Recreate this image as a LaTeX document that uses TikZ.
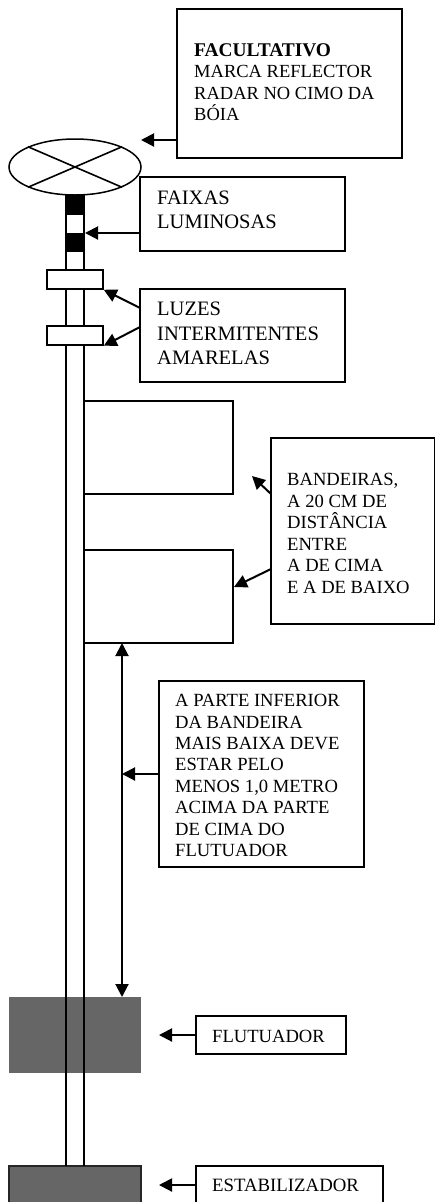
\documentclass[tikz,border=0pt]{standalone}
\usepackage{fontspec}
\setmainfont{Liberation Serif}
\usetikzlibrary{arrows.meta, shapes.geometric}
\definecolor{floatgray}{RGB}{102,102,102}
\tikzset{
	caixa/.style={draw, line width=1.5pt, inner sep=0pt},
	rotulo/.style={anchor=west, align=left, inner sep=0pt},
	peca/.style={draw, line width=1.5pt, fill=white, inner sep=0pt},
	seta/.style={-{Triangle[length=13pt,width=13pt]}, line width=2pt},
	haste/.style={line width=1.6pt}
}
\newcommand{\fsa}{\fontsize{18.6}{21.4}\selectfont}
\newcommand{\fsb}{\fontsize{20.5}{24.3}\selectfont}
\begin{document}
\begin{tikzpicture}[x=1pt, y=-1pt]
	\useasboundingbox (0,0) rectangle (435,1202);
	\clip (0,0) rectangle (435,1202);
	% float and stabilizer
	\node[fill=floatgray, minimum width=132pt, minimum height=76pt, inner sep=0pt] (flutuador) at (75,1035) {};
	\node[draw=black!85, line width=1.5pt, fill=floatgray, minimum width=132pt, minimum height=38pt, inner sep=0pt] (estabilizador) at (75,1185) {};
	% pole
	\draw[haste] (66,195) -- (66,1166);
	\draw[haste] (84,195) -- (84,1166);
	\fill (66,195) rectangle (84,215);
	\fill (66,233) rectangle (84,252);
	% top mark
	\node[peca, ellipse, minimum width=132pt, minimum height=56pt] (marca) at (75,167) {};
	\draw[haste] (marca.north west) -- (marca.south east);
	\draw[haste] (marca.north east) -- (marca.south west);
	% lights
	\node[peca, minimum width=56pt, minimum height=19pt] (luz1) at (75,279.5) {};
	\node[peca, minimum width=56pt, minimum height=19pt] (luz2) at (75,335.5) {};
	% flags
	\node[peca, minimum width=149pt, minimum height=93pt] (bandeira1) at (158.5,447.5) {};
	\node[peca, minimum width=149pt, minimum height=93pt] (bandeira2) at (158.5,596.5) {};
	% label boxes
	\node[caixa, minimum width=225pt, minimum height=149pt] (facultativo) at (289.5,83.5) {};
	\node[caixa, minimum width=205pt, minimum height=74pt] (faixas) at (242.5,214) {};
	\node[caixa, minimum width=205pt, minimum height=93pt] (luzes) at (242.5,335.5) {};
	\node[caixa, minimum width=164pt, minimum height=186pt] (bandeiras) at (353,531) {};
	\node[caixa, minimum width=205pt, minimum height=186pt] (parte) at (261.5,774) {};
	\node[caixa, minimum width=150pt, minimum height=38pt] (flutlabel) at (271,1035) {};
	\node[caixa, minimum width=187pt, minimum height=38pt] (establabel) at (289.5,1185) {};
	% label texts
	\node[rotulo, font=\fontsize{18.5}{21.4}\selectfont] (facultativotxt) at (194,82) {{\fontsize{19.4}{21.4}\selectfont\textbf{FACULTATIVO}}\\MARCA REFLECTOR\\RADAR NO CIMO DA\\BÓIA};
	\node[rotulo, font=\fsb] (faixastxt) at (157,209.5) {FAIXAS\\LUMINOSAS};
	\node[rotulo, font=\fsb] (luzestxt) at (157,333.5) {LUZES\\INTERMITENTES\\AMARELAS};
	\node[rotulo, font=\fontsize{18.6}{21.5}\selectfont] (bandeirastxt) at (287,533.5) {BANDEIRAS,\\A 20 CM DE\\DISTÂNCIA\\ENTRE\\A DE CIMA\\E A DE BAIXO};
	\node[rotulo, font=\fsa] (partetxt) at (175,775.5) {A PARTE INFERIOR\\DA BANDEIRA\\MAIS BAIXA DEVE\\ESTAR PELO\\MENOS 1,0 METRO\\ACIMA DA PARTE\\DE CIMA DO\\FLUTUADOR};
	\node[rotulo, font=\fsa] (flutlabeltxt) at (212,1036) {FLUTUADOR};
	\node[rotulo, font=\fontsize{18.8}{21.4}\selectfont] (establabeltxt) at (212,1185) {ESTABILIZADOR};
	% free ends of the arrows
	\coordinate (facultativoA) at (177,140);
	\coordinate (facultativoB) at (141,140);
	\coordinate (faixasB) at (85,233);
	\coordinate (luzesA) at (140,308);
	\coordinate (luzesB) at (140,327);
	\coordinate (bandeirasA) at (271,494);
	\coordinate (bandeirasB) at (271,569);
	\coordinate (alvoA) at (252,476);
	\coordinate (alvoB) at (234,587);
	\coordinate (parteB) at (122,774);
	\coordinate (cota1) at (122,643);
	\coordinate (cota2) at (122,997);
	\coordinate (flutB) at (159,1035);
	\coordinate (estabB) at (159,1185);
	% arrows
	\draw[seta] (facultativoA) -- (facultativoB);
	\draw[seta] (faixas.west |- faixasB) -- (faixasB);
	\draw[seta] (luzesA) -- (luz1.south east);
	\draw[seta] (luzesB) -- (luz2.south east);
	\draw[seta] (bandeirasA) -- (alvoA);
	\draw[seta] (bandeirasB) -- (alvoB);
	\draw[seta] (parte.west) -- (parteB);
	\draw[seta, {Triangle[length=13pt,width=13pt]}-{Triangle[length=13pt,width=13pt]}] (cota1) -- (cota2);
	\draw[seta] (flutlabel.west) -- (flutB);
	\draw[seta] (establabel.west) -- (estabB);
\end{tikzpicture}
\end{document}
